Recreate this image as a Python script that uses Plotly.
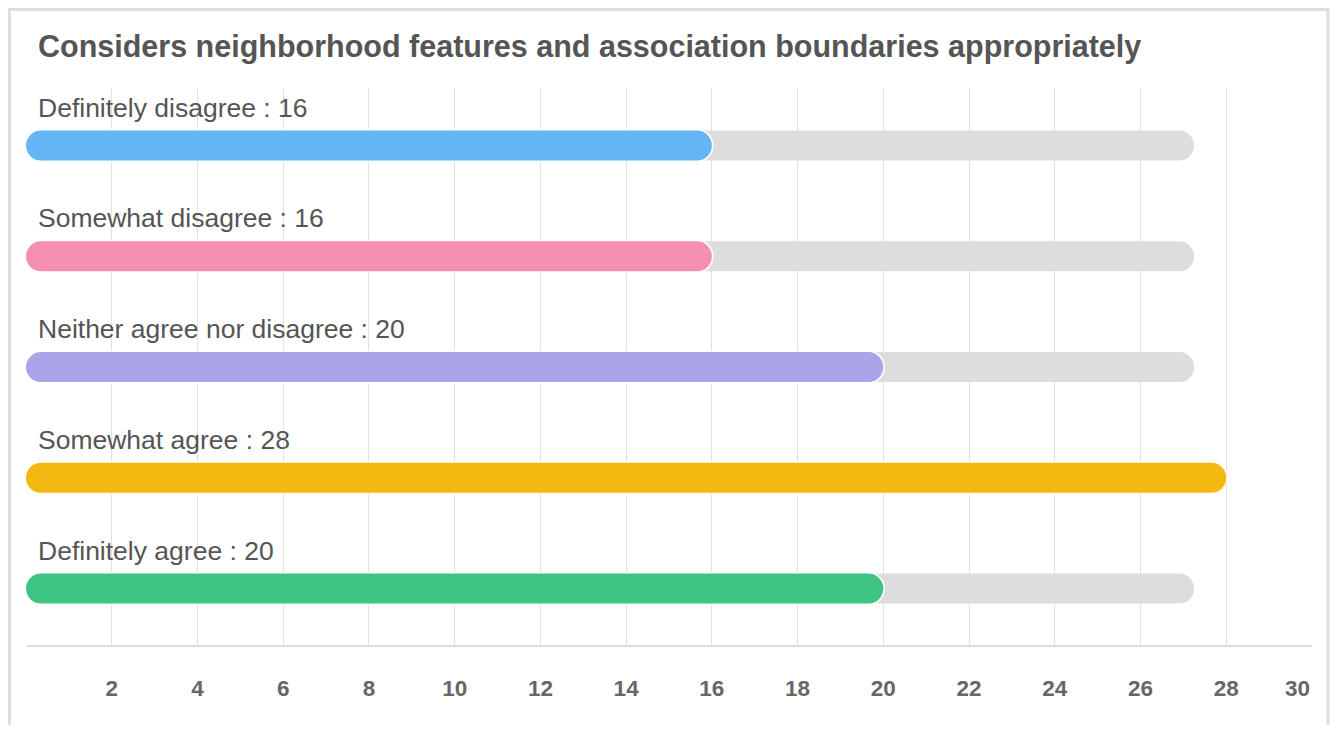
import plotly.graph_objects as go

# ---- data ----
title_text = "Considers neighborhood features and association boundaries appropriately"
categories = ["Definitely disagree", "Somewhat disagree", "Neither agree nor disagree",
              "Somewhat agree", "Definitely agree"]
values = [16, 16, 20, 28, 20]
colors = ["#64B5F6", "#F48FB1", "#ABA4E8", "#F4B90F", "#3EC483"]
track_value = 27.25
x_ticks = [0, 2, 4, 6, 8, 10, 12, 14, 16, 18, 20, 22, 24, 26, 28, 30]

# ---- layout geometry (page has an 8px body margin) ----
PAGE_OFF = 8
FIG_W, FIG_H = 1338 - 2 * PAGE_OFF, 733 - 2 * PAGE_OFF
PLOT_L, PLOT_R, PLOT_T, PLOT_B = 26, 1312.5, 88, 645        # page pixels
M_L = PLOT_L - PAGE_OFF
M_T = PLOT_T - PAGE_OFF
M_R = FIG_W - (PLOT_R - PAGE_OFF)
M_B = FIG_H - (PLOT_B - PAGE_OFF)
PLOT_W = PLOT_R - PLOT_L
PLOT_H = PLOT_B - PLOT_T
X_MAX = 30
BAR_PX = 30
HALO_PX = 1.5
px_per_unit = PLOT_W / X_MAX
y_idx = list(range(len(categories)))
y_range = [4.51, -0.52]
band_px = PLOT_H / (y_range[0] - y_range[1])
bar_w = BAR_PX / band_px
halo_w = (BAR_PX + 2 * HALO_PX) / band_px
halo_u = HALO_PX / px_per_unit


def px_to_paper_x(px):
    return (px - PLOT_L) / PLOT_W


def px_to_paper_y(py):
    return (PLOT_B - py) / PLOT_H


fig = go.Figure()

# grey tracks
fig.add_trace(go.Bar(
    y=y_idx, x=[track_value] * len(y_idx), base=[0] * len(y_idx),
    orientation="h", width=bar_w,
    marker=dict(color="#DDDDDD", cornerradius=BAR_PX / 2, line=dict(width=0)),
    hoverinfo="skip", showlegend=False))

# white halo round the value-bar ends
fig.add_trace(go.Bar(
    y=y_idx, x=[v + 2 * halo_u for v in values], base=[-halo_u] * len(y_idx),
    orientation="h", width=halo_w,
    marker=dict(color="white", cornerradius=BAR_PX / 2 + HALO_PX, line=dict(width=0)),
    hoverinfo="skip", showlegend=False))

# value bars
fig.add_trace(go.Bar(
    y=y_idx, x=values, base=[0] * len(y_idx),
    orientation="h", width=bar_w,
    marker=dict(color=colors, cornerradius=BAR_PX / 2, line=dict(width=0)),
    hovertext=[f"{c} : {v}" for c, v in zip(categories, values)], hoverinfo="text",
    showlegend=False))

FONT = "Liberation Sans, Arial, Helvetica, sans-serif"

annotations = []
for i, (c, v) in enumerate(zip(categories, values)):
    annotations.append(dict(
        x=0, y=i, xref="x", yref="y", xanchor="left", yanchor="middle",
        xshift=10, yshift=38, showarrow=False,
        text=f"{c} : {v}", font=dict(family=FONT, size=26.5, color="#555555")))

# last tick label kept inside the plot edge
annotations.append(dict(
    x=x_ticks[-1], y=0, xref="x", yref="paper", xanchor="right", yanchor="middle",
    yshift=-43, showarrow=False, text=f"<b>{x_ticks[-1]}</b>",
    font=dict(family=FONT, size=22.5, color="#666666")))

annotations.append(dict(
    x=px_to_paper_x(36), y=px_to_paper_y(47), xref="paper", yref="paper",
    xanchor="left", yanchor="middle", showarrow=False,
    text=f"<b>{title_text}</b>", font=dict(family=FONT, size=30.5, color="#555555")))

tick_text = ["" if (t == 0 or t == x_ticks[-1]) else f"<b>{t}</b>" for t in x_ticks]

fig.update_layout(
    width=FIG_W, height=FIG_H,
    margin=dict(l=M_L, r=M_R, t=M_T, b=M_B, autoexpand=False),
    paper_bgcolor="white", plot_bgcolor="white",
    barmode="overlay",
    annotations=annotations,
    xaxis=dict(range=[0, X_MAX], tickvals=x_ticks, ticktext=tick_text,
               showgrid=True, gridcolor="#E0E0E0", gridwidth=1,
               zeroline=False, showline=True, linecolor="#DDDDDD", linewidth=2,
               ticks="", ticklabelstandoff=22,
               tickfont=dict(family=FONT, size=22.5, color="#666666"), fixedrange=True),
    yaxis=dict(range=y_range, showticklabels=False, showgrid=False,
               zeroline=False, showline=False, fixedrange=True),
    shapes=[dict(type="rect", xref="paper", yref="paper",
                 x0=px_to_paper_x(PAGE_OFF + 1.5), x1=px_to_paper_x(PAGE_OFF + FIG_W - 1.5),
                 y0=px_to_paper_y(PAGE_OFF + FIG_H + 10), y1=px_to_paper_y(PAGE_OFF + 1.5),
                 line=dict(color="#DDDDDD", width=3), fillcolor="rgba(0,0,0,0)",
                 layer="below")],
)

fig.write_html("out.html")
